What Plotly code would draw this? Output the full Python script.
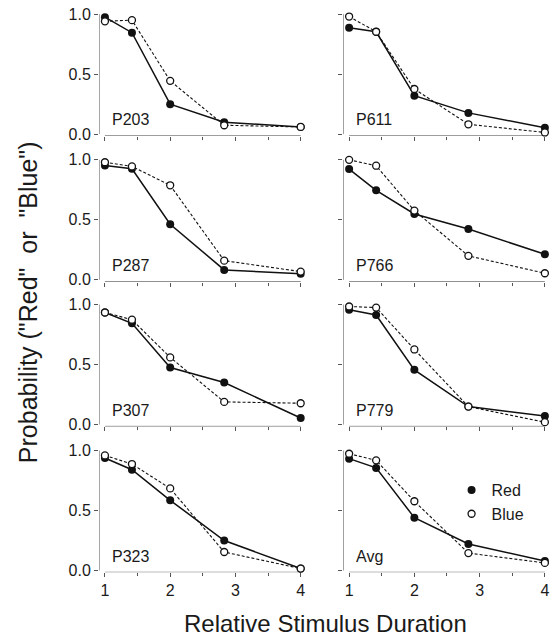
import plotly.graph_objects as go
from plotly.subplots import make_subplots

# ---------------- data ----------------
durations = [1, 1.414, 2, 2.828, 4]
panels = ["P203", "P611", "P287", "P766", "P307", "P779", "P323", "Avg"]
red_vals = {
    "P203": [0.975, 0.845, 0.25, 0.10, 0.06],
    "P611": [0.886, 0.853, 0.32, 0.177, 0.054],
    "P287": [0.953, 0.926, 0.463, 0.083, 0.05],
    "P766": [0.923, 0.746, 0.549, 0.423, 0.213],
    "P307": [0.934, 0.844, 0.475, 0.35, 0.055],
    "P779": [0.956, 0.913, 0.456, 0.15, 0.071],
    "P323": [0.937, 0.84, 0.585, 0.25, 0.016],
    "Avg":  [0.932, 0.855, 0.44, 0.221, 0.079],
}
blue_vals = {
    "P203": [0.94, 0.95, 0.444, 0.074, 0.06],
    "P611": [0.98, 0.853, 0.376, 0.082, 0.014],
    "P287": [0.98, 0.945, 0.788, 0.16, 0.069],
    "P766": [1.0, 0.951, 0.577, 0.20, 0.055],
    "P307": [0.934, 0.874, 0.56, 0.189, 0.178],
    "P779": [0.984, 0.975, 0.626, 0.15, 0.02],
    "P323": [0.959, 0.887, 0.684, 0.154, 0.016],
    "Avg":  [0.973, 0.918, 0.577, 0.145, 0.063],
}
x_tick_vals = [1, 2, 3, 4]
x_tick_text = ["1", "2", "3", "4"]
y_tick_vals = [0, 0.5, 1.0]
y_tick_text = ["0.0", "0.5", "1.0"]
series_names = ["Red", "Blue"]
x_title = "Relative Stimulus Duration"
y_title = "Probability (\"Red\"\u00a0 or\u00a0 \"Blue\")"

# ---------------- layout constants ----------------
W, H = 560, 640
FONT = "Liberation Sans, Arial, Helvetica, sans-serif"
INK = "#1a1a1a"
SPINE = "#555555"
X_RANGE = [0.91, 4.03]
Y_RANGE = [-0.015, 1.03]
X_UNIT = 65.6
COL_X1 = [105.5, 351.0]          # pixel of x=1 in each column
Y_UNIT = 122.3
ROW_Y1 = [9.3, 157.8, 305.3, 454.0]  # pixel of y=1 in each row

fig = make_subplots(rows=4, cols=2)

for idx, name in enumerate(panels):
    r, c = idx // 2, idx % 2
    ax = idx + 1
    xs = "" if ax == 1 else str(ax)
    xref, yref = "x" + xs, "y" + xs
    # red: filled, solid
    fig.add_trace(go.Scatter(
        x=durations, y=red_vals[name], mode="lines+markers",
        line=dict(color="#111111", width=1.5),
        marker=dict(symbol="circle", size=8, color="#111111"),
        showlegend=False, cliponaxis=False), row=r + 1, col=c + 1)
    # blue: open, dashed
    fig.add_trace(go.Scatter(
        x=durations, y=blue_vals[name], mode="lines+markers",
        line=dict(color="#111111", width=1.1, dash="3px,2px"),
        marker=dict(symbol="circle", size=7, color="white",
                    line=dict(color="#111111", width=1.3)),
        showlegend=False, cliponaxis=False), row=r + 1, col=c + 1)

    # domains
    x0 = COL_X1[c] + (X_RANGE[0] - 1) * X_UNIT
    x1 = COL_X1[c] + (X_RANGE[1] - 1) * X_UNIT
    top = ROW_Y1[r] - (Y_RANGE[1] - 1) * Y_UNIT
    bot = ROW_Y1[r] + (1 - Y_RANGE[0]) * Y_UNIT
    fig.layout["xaxis" + xs].update(
        domain=[x0 / W, x1 / W], range=X_RANGE, showgrid=False, zeroline=False,
        showline=False, ticks="outside", ticklen=4, tickwidth=1, tickcolor=SPINE,
        tickvals=x_tick_vals, ticktext=x_tick_text,
        showticklabels=(r == 3),
        tickfont=dict(family=FONT, size=16, color=INK),
        minor=dict(tickvals=[1.5, 2.5, 3.5], ticks="outside", ticklen=3,
                   tickwidth=1, tickcolor=SPINE, showgrid=False),
    )
    fig.layout["yaxis" + xs].update(
        domain=[1 - bot / H, 1 - top / H], range=Y_RANGE, showgrid=False,
        zeroline=False, showline=False, ticks="outside", ticklen=4, tickwidth=1,
        tickcolor=SPINE, tickvals=y_tick_vals, ticktext=y_tick_text,
        showticklabels=(c == 0),
        tickfont=dict(family=FONT, size=16, color=INK),
    )
    # detached spines (R style)
    fig.add_shape(type="line", xref=xref, yref=yref, x0=X_RANGE[0], x1=X_RANGE[0],
                  y0=y_tick_vals[0], y1=y_tick_vals[-1],
                  line=dict(color=SPINE, width=1), layer="below")
    fig.add_shape(type="line", xref=xref, yref=yref, x0=x_tick_vals[0], x1=x_tick_vals[-1],
                  y0=Y_RANGE[0], y1=Y_RANGE[0],
                  line=dict(color=SPINE, width=1), layer="below")
    # panel label
    fig.add_annotation(x=1.07, y=0.12, xref=xref, yref=yref, text=name,
                       showarrow=False, xanchor="left", yanchor="middle",
                       font=dict(family=FONT, size=16, color=INK))

# legend entries (markers only)
fig.add_trace(go.Scatter(x=[None], y=[None], mode="markers", name=series_names[0],
                         marker=dict(symbol="circle", size=8, color="#111111"),
                         showlegend=True), row=4, col=2)
fig.add_trace(go.Scatter(x=[None], y=[None], mode="markers", name=series_names[1],
                         marker=dict(symbol="circle", size=7, color="white",
                                     line=dict(color="#111111", width=1.3)),
                         showlegend=True), row=4, col=2)

fig.add_annotation(x=327.5 / W, y=1 - 630 / H, xref="paper", yref="paper",
                   text=x_title, showarrow=False, xanchor="center", yanchor="middle",
                   font=dict(family=FONT, size=24, color=INK))
fig.add_annotation(x=28 / W, y=1 - 303 / H, xref="paper", yref="paper",
                   text=y_title, showarrow=False, textangle=-90,
                   xanchor="center", yanchor="middle",
                   font=dict(family=FONT, size=25, color=INK))

fig.update_layout(
    width=W, height=H, margin=dict(l=0, r=0, t=0, b=0),
    paper_bgcolor="white", plot_bgcolor="white",
    showlegend=True,
    legend=dict(x=454 / W, y=1 - 477 / H, xanchor="left", yanchor="top",
                bgcolor="rgba(0,0,0,0)", font=dict(family=FONT, size=16, color=INK),
                tracegroupgap=0, itemwidth=30),
)

fig.write_html("out.html", config={"displayModeBar": False},
               post_script="document.body.style.margin='0';document.body.style.overflow='hidden';")
